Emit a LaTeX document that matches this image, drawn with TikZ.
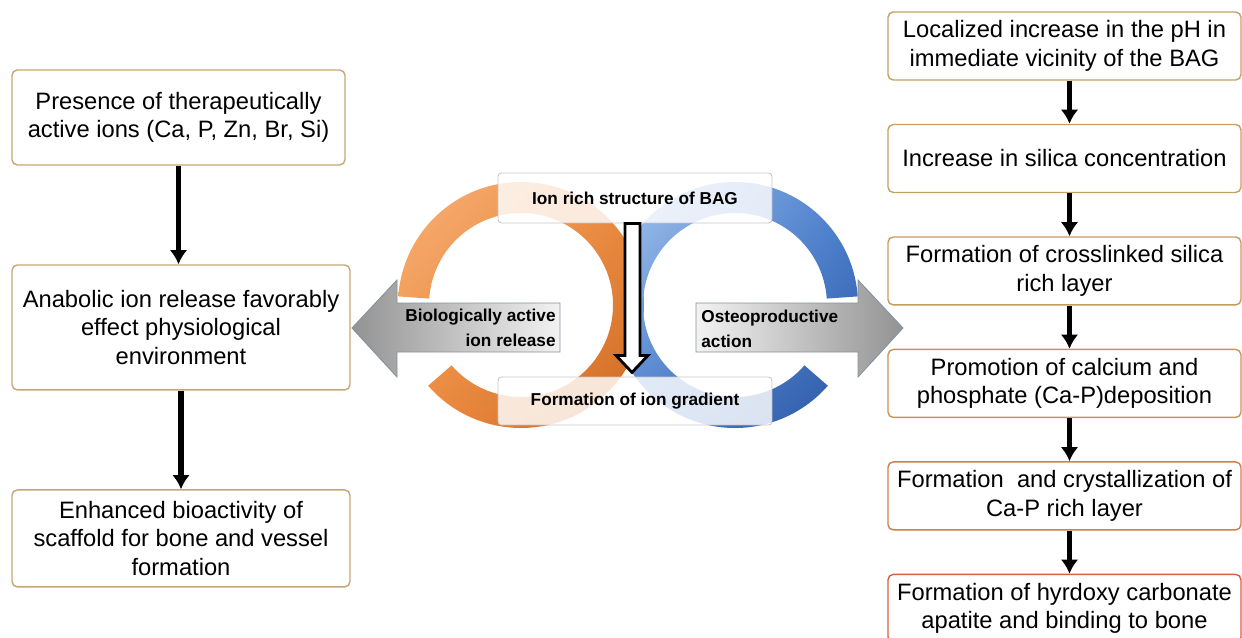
\documentclass[tikz,border=0pt]{standalone}
\usepackage{fontspec}
\setmainfont{Liberation Sans}
\usetikzlibrary{arrows.meta,positioning,calc,shadings}
\definecolor{tanline}{HTML}{C6A674}
\definecolor{stepA}{HTML}{C4A062}
\definecolor{stepB}{HTML}{C69C5C}
\definecolor{stepC}{HTML}{C99556}
\definecolor{stepE}{HTML}{D07E4A}
\definecolor{stepF}{HTML}{D4613C}
\definecolor{orangeLt}{HTML}{F8B47C}
\definecolor{orangeMd}{HTML}{EE8A3C}
\definecolor{orangeDk}{HTML}{C8641E}
\definecolor{blueLt}{HTML}{AECBEF}
\definecolor{blueMd}{HTML}{4D82D2}
\definecolor{blueDk}{HTML}{2B55A2}
\definecolor{arrowline}{HTML}{8592A0}

\begin{document}
\begin{tikzpicture}[
    x=0.02cm, y=0.02cm,
    node distance=2.25cm,
    >={Latex[length=8pt,width=10pt]},
    font=\fontsize{13.5}{16.2}\selectfont,
    stage/.style={
		rectangle,
		rounded corners=3pt,
		draw=tanline,
		line width=0.8pt,
		align=center,
		inner sep=2pt,
		fill=white
	},
    tally/.style={
		stage,
		minimum width=7.06cm,
		minimum height=1.36cm
	},
    cue/.style={
		rectangle,
		rounded corners=2pt,
		draw=gray!45,
		line width=0.5pt,
		fill=white,
		fill opacity=0.82,
		text opacity=1,
		minimum width=5.48cm,
		minimum height=1cm,
		font=\bfseries\fontsize{9.8}{14}\selectfont
	},
    tag/.style={
		inner sep=0pt,
		font=\bfseries\fontsize{9.8}{14.5}\selectfont
	},
    flow/.style={->, line width=3pt}
  ]
  \useasboundingbox (0,0) rectangle (1242,637);
  \clip (0,0) rectangle (1242,637);

  % the two rings in the middle
  \coordinate (lring) at (521,332);
  \coordinate (rring) at (735,332);
  \shade [upper left=orangeLt, upper right=orangeMd, lower left=orangeMd, lower right=orangeDk]
    ([shift={(221:123)}]lring) arc[start angle=221, end angle=536, radius=123]
    -- ([shift={(176:92)}]lring) arc[start angle=536, end angle=221, radius=92] -- cycle;
  \begin{scope}
    \clip (632,150) rectangle (900,500);
    \shade [upper left=blueLt, upper right=blueMd, lower left=blueMd, lower right=blueDk]
      ([shift={(4:123)}]rring) arc[start angle=4, end angle=319, radius=123]
      -- ([shift={(319:92)}]rring) arc[start angle=319, end angle=4, radius=92] -- cycle;
  \end{scope}

  % gray side arrows
  \shadedraw [left color=gray!85, right color=gray!10, draw=arrowline, line width=0.5pt]
    (352,309) -- (397,357) -- (397,334) -- (560,334) -- (560,285) -- (397,285) -- (397,260) -- cycle;
  \shadedraw [left color=gray!10, right color=gray!85, draw=arrowline, line width=0.5pt]
    (903,309) -- (858,357) -- (858,334) -- (696,334) -- (696,285) -- (858,285) -- (858,260) -- cycle;
  \node [tag, align=right, anchor=east] (bioact) at (556,309) {Biologically active\\ion release};
  \node [tag, align=left, anchor=west] (osteo) at (701,308) {Osteoproductive\\action};

  \node [cue] (ionrich) at (635,439) {Ion rich structure of BAG};
  \node [cue, minimum height=0.96cm] (gradient) at (635,236) {Formation of ion gradient};

  \draw [line width=1.6pt, fill=white] (ionrich.south) ++(-10,0) -- ++(0,-132) -- ++(-9,0)
    -- ++(16,-17) -- ++(16,17) -- ++(-8,0) -- ++(0,132) -- cycle;

  % left column
  \node [stage, minimum width=6.66cm, minimum height=1.9cm] (ions) at (178.5,519.5)
  {Presence of therapeutically\\active ions (Ca, P, Zn, Br, Si)};
  \node [stage, minimum width=6.76cm, minimum height=2.5cm, node distance=4.2cm, below of=ions, xshift=0.05cm] (release)
  {Anabolic ion release favorably\\effect physiological\\environment};
  \node [stage, minimum width=6.76cm, minimum height=1.94cm, node distance=4.22cm, below of=release] (scaffold)
  {Enhanced bioactivity of\\scaffold for bone and vessel\\formation};

  % right column
  \node [tally, draw=stepA] (ph) at (1064.5,591)
  {Localized increase in the pH in\\immediate vicinity of the BAG};
  \node [tally, draw=stepA, below of=ph] (silica) {Increase in silica concentration};
  \node [tally, draw=stepB, below of=silica] (layer) {Formation of crosslinked silica\\rich layer};
  \node [tally, draw=stepC, below of=layer] (capdep) {Promotion of calcium and\\phosphate (Ca-P)deposition};
  \node [tally, draw=stepE, below of=capdep] (cryst) {Formation~ and crystallization of\\Ca-P rich layer};
  \node [tally, draw=stepF, below of=cryst] (hca) {Formation of hyrdoxy carbonate\\apatite and binding to bone};

  \draw [flow] (ions) -- (ions |- release.north);
  \draw [flow] (release) -- (release |- scaffold.north);
  \draw [flow] ([xshift=0.1cm]ph.south) -- ([xshift=0.1cm]silica.north);
  \draw [flow] ([xshift=0.1cm]silica.south) -- ([xshift=0.1cm]layer.north);
  \draw [flow] ([xshift=0.1cm]layer.south) -- ([xshift=0.1cm]capdep.north);
  \draw [flow] ([xshift=0.1cm]capdep.south) -- ([xshift=0.1cm]cryst.north);
  \draw [flow] ([xshift=0.1cm]cryst.south) -- ([xshift=0.1cm]hca.north);
\end{tikzpicture}
\end{document}
